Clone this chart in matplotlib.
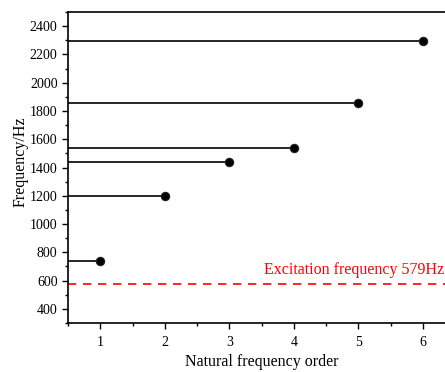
import matplotlib.pyplot as plt
from matplotlib.ticker import MultipleLocator

plt.rcParams['font.family'] = ['Liberation Serif', 'DejaVu Serif']

# natural frequencies
order = [1, 2, 3, 4, 5, 6]
freq = [742, 1202, 1436, 1535, 1854, 2294]
excitation = 579
excitation_label = 'Excitation frequency 579Hz'

x_left, x_right = 0.5, 6.5

fig = plt.figure(figsize=(4.45, 3.72), dpi=100)
ax = fig.add_axes([0.1528, 0.1317, 0.870, 0.836])

ax.hlines(freq, x_left, order, colors='black', lw=1.2, zorder=2)
ax.plot(order, freq, 'o', color='black', ms=6, mec='#222222', mew=0.8, zorder=3)

ax.axhline(excitation, color='red', ls=(0, (5, 4)), lw=1.2)
ax.text(3.54, excitation + 95, excitation_label, color='red', fontsize=11.5,
        va='center', ha='left', clip_on=False)

ax.set_xlim(x_left, x_right)
ax.set_ylim(300, 2500)
ax.xaxis.set_major_locator(MultipleLocator(1))
ax.xaxis.set_minor_locator(MultipleLocator(0.5))
ax.yaxis.set_major_locator(MultipleLocator(200))
ax.yaxis.set_minor_locator(MultipleLocator(100))
ax.set_yticks(range(400, 2401, 200))
ax.tick_params(which='major', direction='out', length=4, width=1, labelsize=10)
ax.tick_params(which='minor', direction='out', length=2.5, width=1)
ax.tick_params(axis='x', pad=5)

ax.set_xlabel('Natural frequency order', fontsize=11.5, labelpad=4)
ax.set_ylabel('Frequency/Hz', fontsize=11.5)
ax.yaxis.set_label_coords(-0.102, 0.52)

for s in ['left', 'bottom', 'top']:
    ax.spines[s].set_linewidth(1.2)
ax.spines['right'].set_visible(False)

fig.savefig('out.png', dpi=100)
